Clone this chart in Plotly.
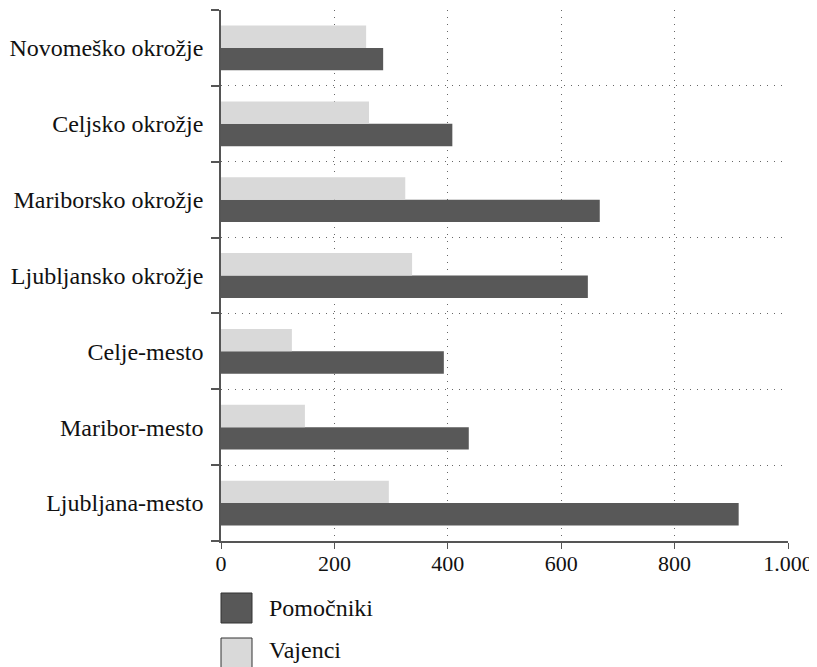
import plotly.graph_objects as go

categories = ["Ljubljana-mesto", "Maribor-mesto", "Celje-mesto", "Ljubljansko okrožje",
              "Mariborsko okrožje", "Celjsko okrožje", "Novomeško okrožje"]
pomocniki = [913, 437, 393, 647, 668, 408, 286]
vajenci = [296, 148, 125, 337, 325, 261, 256]
series_names = ["Pomočniki", "Vajenci"]
x_ticks = [0, 200, 400, 600, 800, 1000]

DARK = "#585858"
LIGHT = "#d9d9d9"
FONT = "Liberation Serif, Times New Roman, serif"

fig = go.Figure()
fig.add_trace(go.Bar(y=categories, x=pomocniki, orientation="h", name=series_names[0],
                     marker=dict(color=DARK, line=dict(width=0))))
fig.add_trace(go.Bar(y=categories, x=vajenci, orientation="h", name=series_names[1],
                     marker=dict(color=LIGHT, line=dict(width=0))))

# page body has an 8px default margin, so the figure is sized/offset to compensate
fig.update_layout(
    width=809, height=659,
    margin=dict(l=213, r=29, t=2, b=126),
    paper_bgcolor="white", plot_bgcolor="white",
    barmode="group", bargap=0.41, bargroupgap=0,
    showlegend=False,
    separators=",.",
    font=dict(family=FONT, size=24, color="#111"),
)
fig.update_xaxes(
    range=[0, 1000], tickvals=x_ticks, separatethousands=True,
    showline=True, linecolor="#555", linewidth=1.5,
    ticks="outside", ticklen=6, tickcolor="#555", tickwidth=1,
    showgrid=True, gridcolor="#666", griddash="1px,6px", gridwidth=1,
    zeroline=False, automargin=False, ticklabelstandoff=-4,
    tickfont=dict(family=FONT, size=22, color="#111"),
)
fig.update_yaxes(
    categoryorder="array", categoryarray=categories, range=[-0.5, 6.5],
    showline=True, linecolor="#555", linewidth=1.5,
    ticks="outside", ticklen=8, tickcolor="#555", tickwidth=1.5, tickson="boundaries",
    showgrid=True, gridcolor="#666", griddash="1px,6px", gridwidth=1,
    zeroline=False, automargin=False, ticklabelstandoff=11,
    tickfont=dict(family=FONT, size=24, color="#111"),
)

# Legend drawn below the plot with large swatches
legend_items = [(series_names[0], DARK, -52, -67), (series_names[1], LIGHT, -97, -109)]
for name, color, ytop, ymid in legend_items:
    fig.add_shape(type="rect", xref="paper", yref="paper",
                  xsizemode="pixel", ysizemode="pixel", xanchor=0, yanchor=0,
                  x0=0, x1=31, y0=ytop, y1=ytop - 30,
                  fillcolor=color, line=dict(color="#333", width=1))
    fig.add_annotation(text=name, xref="paper", yref="paper", x=0, y=0,
                       xanchor="left", yanchor="middle", xshift=46, yshift=ymid,
                       showarrow=False, font=dict(family=FONT, size=24, color="#111"))

fig.write_html("out.html")
